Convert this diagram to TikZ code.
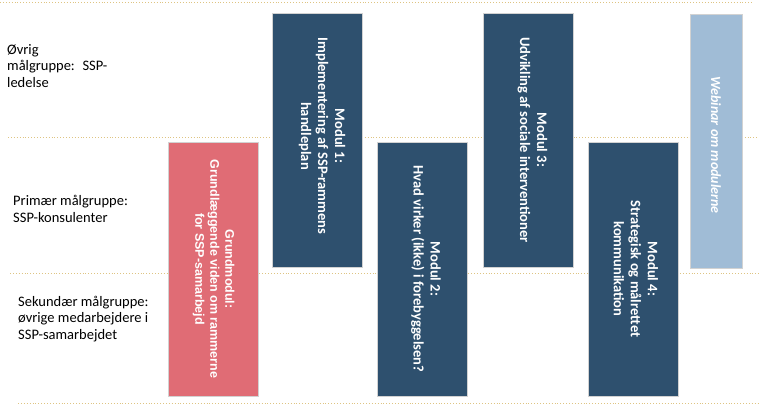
\documentclass[tikz,border=0pt]{standalone}
\usepackage{fontspec}
\setmainfont{Carlito}
\newfontfamily\arialfont{Liberation Sans}
\usepackage{xcolor}
\usetikzlibrary{positioning}

\definecolor{modblue}{RGB}{46,80,110}
\definecolor{modred}{RGB}{224,108,117}
\definecolor{webblue}{RGB}{160,188,214}
\definecolor{dotgold}{RGB}{222,196,130}

\begin{document}
\begin{tikzpicture}[x=1pt,y=-1pt,
  modbox/.style={rectangle,rotate=-90,minimum width=254pt,minimum height=90pt,inner sep=0pt,fill=modblue,draw=gray!35,line width=0.6pt},
  grundbox/.style={modbox,fill=modred},
  webbox/.style={modbox,fill=webblue,minimum height=52pt},
  modtxt/.style={rotate=-90,inner sep=0pt,text=white,align=center,font=\fontsize{14.5}{17}\selectfont\bfseries},
  grundtxt/.style={modtxt,font=\arialfont\fontsize{12.5}{15}\selectfont\bfseries},
  webtxt/.style={modtxt,font=\fontsize{14}{17}\selectfont\bfseries\itshape},
  rowline/.style={dotgold,line width=0.9pt,dotted},
  group/.style={anchor=base west,align=left,inner sep=0pt,font=\fontsize{14.5}{16.5}\selectfont}
]
\useasboundingbox (0,0) rectangle (768,405);

% Row borders
\coordinate (r0w) at (0,2);   \coordinate (r0e) at (752,2);
\coordinate (r1w) at (8,137); \coordinate (r1e) at (757,137);
\coordinate (r2w) at (10,273); \coordinate (r2e) at (760,273);
\coordinate (r3w) at (18,403); \coordinate (r3e) at (760,403);
\draw[rowline] (r0w) -- (r0e);
\draw[rowline] (r1w) -- (r1e);
\draw[rowline] (r2w) -- (r2e);
\draw[rowline] (r3w) -- (r3e);

% Target groups (anchored at baseline of last line)
\node[group] (oevrig) at (7,87) {Øvrig\\målgruppe:~ SSP-\\ledelse};
\node[group] (primaer) at (13,222) {Primær målgruppe:\\SSP-konsulenter};
\node[group] (sekundaer) at (18,339) {Sekundær målgruppe:\\øvrige medarbejdere i\\SSP-samarbejdet};

% Module boxes
\node[grundbox] (grundmodul) at (213.5,269) {};
\node[modbox] (modul1) at (317,140) {};
\node[modbox] (modul2) at (422.5,269) {};
\node[modbox] (modul3) at (528,140) {};
\node[modbox] (modul4) at (633,269) {};
\node[webbox] (webinar) at (716,141) {};

% Module texts
\node[grundtxt] (grundmodultxt) at (grundmodul.center) {Grundmodul:\\Grundlæggende viden om rammerne\\for SSP-samarbejd};
\node[modtxt] (modul1txt) at ([xshift=5pt,yshift=4pt]modul1.center) {Modul 1:\\Implementering af SSP-rammens\\handleplan};
\node[modtxt] (modul2txt) at ([xshift=3.5pt]modul2.center) {Modul 2:\\Hvad virker (ikke) i forebyggelsen?};
\node[modtxt] (modul3txt) at ([xshift=4.5pt]modul3.center) {Modul 3:\\Udvikling af sociale interventioner};
\node[modtxt] (modul4txt) at ([xshift=3pt]modul4.center) {Modul 4:\\Strategisk og målrettet\\kommunikation};
\node[webtxt] (webinartxt) at ([yshift=-4pt]webinar.center) {Webinar om modulerne};

\end{tikzpicture}
\end{document}
